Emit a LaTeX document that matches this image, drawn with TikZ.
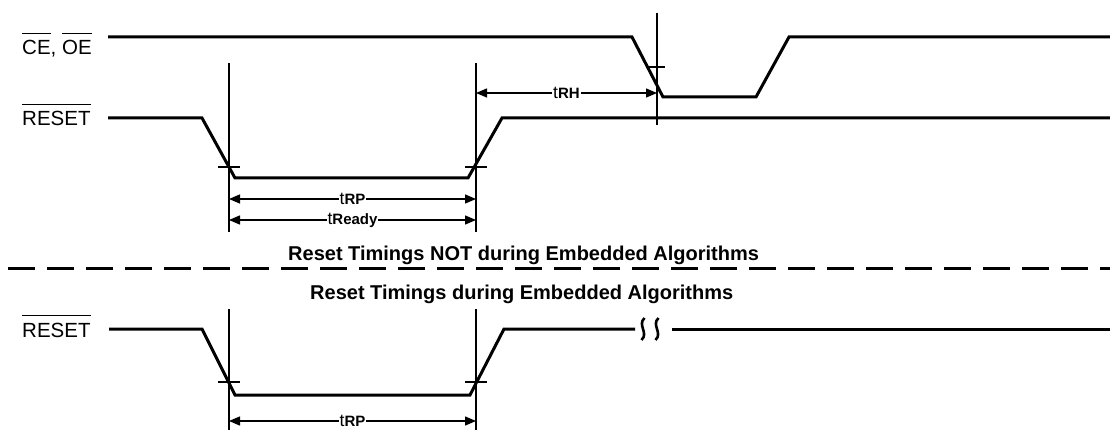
\documentclass[tikz,border=0pt]{standalone}
\usepackage{fontspec}
\setmainfont{Liberation Sans}
\usepackage{tikz}
\usetikzlibrary{arrows.meta}
\usetikzlibrary{positioning}
\usetikzlibrary{calc}
\tikzstyle{signal}=[line width=3pt,line join=miter]
\tikzstyle{guide}=[line width=1.3pt]
\tikzstyle{dim}=[line width=1.3pt,{Triangle[length=11pt,width=9pt]}-{Triangle[length=11pt,width=9pt]}]
\tikzstyle{dimlabel}=[fill=white,inner sep=1pt]
\newcommand{\ovl}[1]{\vbox{\hrule height 1pt\kern 7pt\hbox{#1}}}
\newcommand{\tlab}[1]{{\fontsize{17.5}{17.5}\selectfont t}{\fontsize{15}{15}\selectfont\bfseries #1}}

\begin{document}
\begin{tikzpicture}[x=1pt,y=-1pt]
	\tikzstyle{signame}=[anchor=base west,inner sep=0pt,font=\fontsize{20.5}{20.5}\selectfont]
	\tikzstyle{heading}=[anchor=base west,inner sep=0pt,font=\fontsize{20}{20}\selectfont\bfseries]
	\useasboundingbox (0,0) rectangle (1110,430);
	% signal names
	\node [signame] (ceoe) at (22,55) {\ovl{CE}, \ovl{OE}};
	\node [signame] (rst1) at (22,126) {\ovl{RESET}};
	\node [signame] (rst2) at (22,337) {\ovl{RESET}};
	% waveforms
	\draw [signal] (108,37) -- (632,37) -- (663,97) -- (756,97) -- (789,37) -- (1110,37);
	\draw [signal] (108,118) -- (202,118) -- (235,178) -- (468,178) -- (502,118) -- (1110,118);
	\draw [signal] (109,329) -- (202,329) -- (235,395) -- (470,395) -- (504,329) -- (635,329);
	\draw [signal] (672,329) -- (1110,329);
	% break mark
	\foreach \x in {643,657}
		\draw [line width=2.6pt] (\x+1.5,318) .. controls (\x-6,325) and (\x+6,333) .. (\x-1.5,340);
	% guide lines
	\coordinate (fallA) at (229,63);  \coordinate (fallAend) at (229,232);
	\coordinate (riseA) at (476,63);  \coordinate (riseAend) at (476,232);
	\coordinate (ceFall) at (657,13); \coordinate (ceFallend) at (657,125);
	\coordinate (fallB) at (229,309); \coordinate (fallBend) at (229,430);
	\coordinate (riseB) at (476,309); \coordinate (riseBend) at (476,430);
	\draw [guide] (fallA) -- (fallAend);
	\draw [guide] (riseA) -- (riseAend);
	\draw [guide] (ceFall) -- (ceFallend);
	\draw [guide] (fallB) -- (fallBend);
	\draw [guide] (riseB) -- (riseBend);
	% crossing marks
	\foreach \x/\y in {229/167,476/167,229/382,476/382}
		\draw [guide] (\x-11,\y) -- (\x+11,\y);
	\draw [guide] (649,67) -- (665,67);
	% timing arrows
	\coordinate (rhL) at (476,93);   \coordinate (rhR) at (657,93);
	\coordinate (rpL) at (229,199);  \coordinate (rpR) at (476,199);
	\coordinate (rdyL) at (229,220); \coordinate (rdyR) at (476,220);
	\coordinate (rp2L) at (229,421); \coordinate (rp2R) at (476,421);
	\draw [dim] (rhL) -- node [dimlabel] (trh) {\tlab{RH}} (rhR);
	\draw [dim] (rpL) -- node [dimlabel] (trp) {\tlab{RP}} (rpR);
	\draw [dim] (rdyL) -- node [dimlabel] (tready) {\tlab{Ready}} (rdyR);
	\draw [dim] (rp2L) -- node [dimlabel] (trp2) {\tlab{RP}} (rp2R);
	% mode separator
	\coordinate (sepL) at (8,268);
	\coordinate (sepR) at (1110,268);
	\draw [line width=3pt,dash pattern=on 27pt off 12pt] (sepL) -- (sepR);
	\node [heading] (notalg) at (288,261) {Reset Timings NOT during Embedded Algorithms};
	\node [heading] (inalg) at (310,299) {Reset Timings during Embedded Algorithms};
\end{tikzpicture}
\end{document}
